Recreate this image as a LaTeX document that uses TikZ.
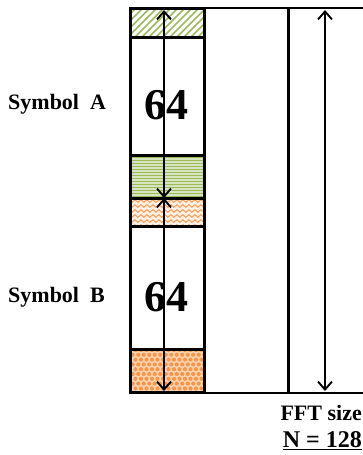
\documentclass[tikz,border=0pt]{standalone}
\usepackage{fontspec}
\setmainfont{Liberation Serif}
\usetikzlibrary{arrows.meta,decorations.pathmorphing}
\definecolor{hatchgreen}{HTML}{9BBB59}
\definecolor{palegreen}{HTML}{D7E4BD}
\definecolor{lineorange}{HTML}{F79646}
\definecolor{paleorange}{HTML}{FCD5B4}
\tikzset{
  frame/.style={line width=3pt},
  thin frame/.style={line width=1.8pt},
  span/.style={line width=1.5pt,{Straight Barb[length=8pt,width=14pt,line width=1.9pt]}-{Straight Barb[length=8pt,width=14pt,line width=1.9pt]}},
  label/.style={font=\bfseries\fontsize{22}{25}\selectfont, inner sep=0pt},
  bignum/.style={font=\bfseries\fontsize{44}{48}\selectfont, inner sep=0pt}
}
\begin{document}
\begin{tikzpicture}[x=1pt,y=-1pt]
\useasboundingbox (0,0) rectangle (363,455);

% column cells
\def\xl{130}\def\xr{204}
% top guard: diagonal hatch
\begin{scope}
  \clip (\xl,8) rectangle (\xr,37);
  \foreach \k in {-40,-33,...,110}
    \draw[hatchgreen,line width=1.6pt] (\xl+\k,40) -- (\xl+\k+35,5);
\end{scope}
% green guard: horizontal lines
\fill[palegreen] (\xl,155) rectangle (\xr,198);
\begin{scope}
  \clip (\xl,155) rectangle (\xr,198);
  \foreach \y in {157,160,...,197}
    \draw[hatchgreen,line width=0.8pt] (\xl,\y) -- (\xr,\y);
\end{scope}
% orange guard: wavy lines
\fill[paleorange!35] (\xl,198) rectangle (\xr,226);
\begin{scope}
  \clip (\xl,198) rectangle (\xr,226);
  \foreach \y in {201,206,...,226}
    \draw[lineorange,line width=0.9pt,decorate,decoration={snake,segment length=6pt,amplitude=1.3pt}] (\xl-3,\y) -- (\xr+3,\y);
\end{scope}
% orange tail: dots
\fill[paleorange] (\xl,349) rectangle (\xr,392);
\begin{scope}
  \clip (\xl,349) rectangle (\xr,392);
  \foreach \r in {0,...,9} {
    \pgfmathsetmacro{\off}{mod(\r,2)*2.75}
    \foreach \c in {0,...,14}
      \fill[lineorange] (\xl+\c*5.5+\off,350+\r*4.8) circle (2.1);
  }
\end{scope}

% outlines
\draw[frame] (\xl,8) rectangle (\xr,392);
\foreach \y in {37,155,198,226,349}
  \draw[frame] (\xl,\y) -- (\xr,\y);
\draw[thin frame] (\xl,8) -- (363,8);
\draw[thin frame] (140,393) -- (363,393);
\draw[frame] (288,8) -- (288,393);

% span markers
\coordinate (aTop) at (164,10);
\coordinate (aMid) at (164,198);
\coordinate (aBot) at (164,391);
\coordinate (nTop) at (325,10);
\coordinate (nBot) at (325,391);

% labels
\node[bignum] (numA) at (166,105) {64};
\node[bignum] (numB) at (166,297) {64};
\node[label,anchor=west] (symA) at (8,104) {Symbol\ \ A};
\node[label,anchor=west] (symB) at (8,297) {Symbol\ \ B};
\node[label,anchor=east] (fft) at (362,413) {FFT size};
\node[label,anchor=east,font=\bfseries\fontsize{24}{28}\selectfont] (nval) at (362,441) {\underline{N = 128}};

\draw[span] (aTop) -- (aMid);
\draw[span] (aMid) -- (aBot);
\draw[span] (nTop) -- (nBot);
\end{tikzpicture}
\end{document}
